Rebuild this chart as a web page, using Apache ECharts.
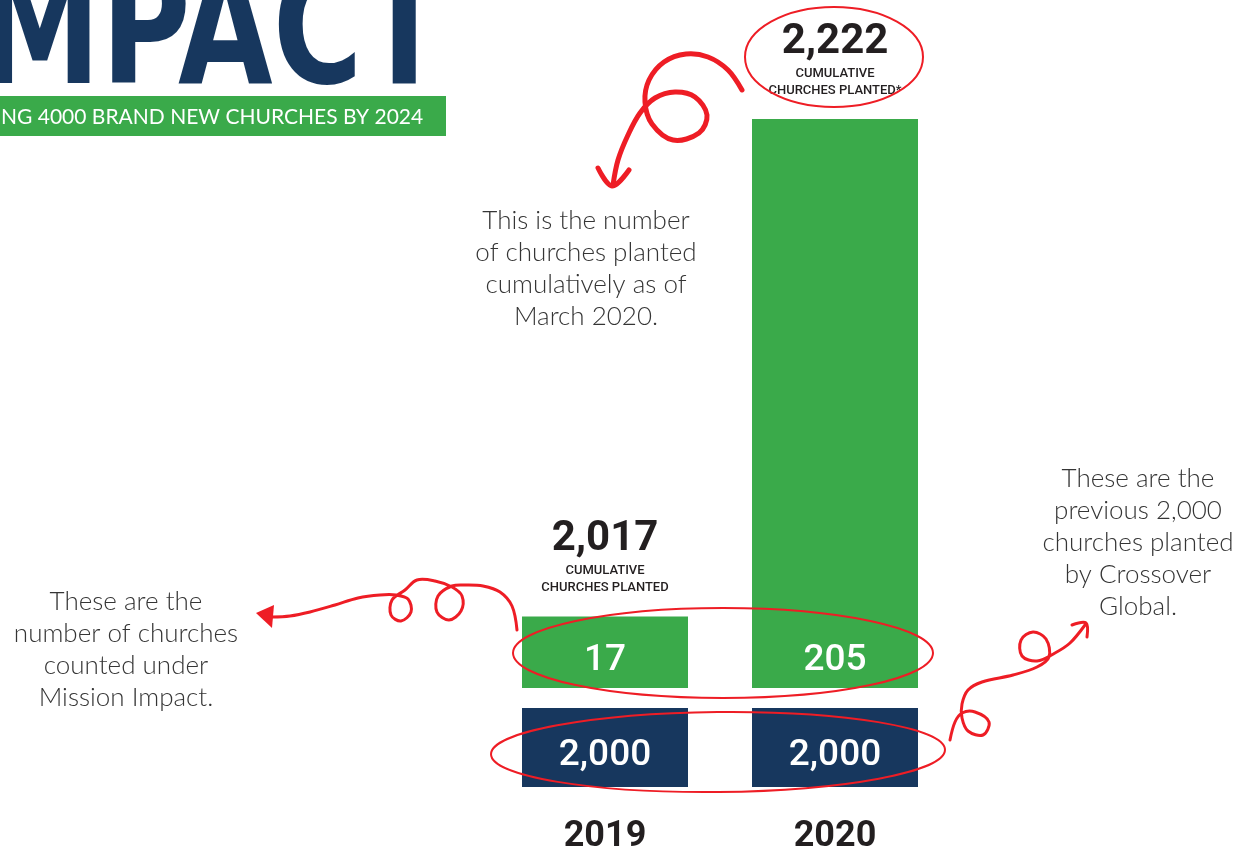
<!DOCTYPE html>
<html>
<head>
<meta charset="utf-8">
<script src="https://cdn.jsdelivr.net/npm/echarts@6/dist/echarts.min.js"></script>
<style>
    html, body {margin: 0; padding: 0; background: #fff;}
    #impact_chart {width: 1245px; height: 855px;}
</style>
</head>
<body>
<div id="impact_chart"></div>
<script>
var years = ['2019', '2020'];
var previousChurches = [2000, 2000];
var missionImpact = [17, 205];
var footnotes = ['', '*'];

var GREEN = '#3aaa4a';
var NAVY = '#17375e';
var RED = '#ee1d25';
var NARROW = "Roboto, 'DejaVu Sans Condensed', sans-serif";
var SOFT = "Lato, 'Noto Sans', sans-serif";

function fmt(v) {
    return v.toLocaleString('en-US');
}

function Impact_chart() {
    // running total: the old 2,000 plus every church counted so far
    var cumulative = [];
    var sum = 0;
    for (var i = 0; i < years.length; i++) {
        sum += missionImpact[i];
        cumulative.push(previousChurches[i] + sum);
    }

    var mychart = echarts.init(document.getElementById('impact_chart'));

    var redLine = function (points, width) {
        return {
            type: 'polyline',
            shape: {points: points, smooth: 0.35},
            style: {stroke: RED, fill: null, lineWidth: width, lineCap: 'round', lineJoin: 'round'},
            z: 100
        };
    };
    var ellipse = function (cx, cy, rx, ry, rot) {
        return {
            type: 'ellipse',
            x: cx, y: cy, rotation: rot || 0,
            shape: {cx: 0, cy: 0, rx: rx, ry: ry},
            style: {stroke: RED, fill: null, lineWidth: 2},
            z: 100
        };
    };
    var note = function (x, y, text) {
        return {
            type: 'text', x: x, y: y,
            style: {
                text: text, fill: '#353535', font: '300 26px ' + SOFT,
                textAlign: 'center', textVerticalAlign: 'top', lineHeight: 32
            }
        };
    };

    var option = {
        animation: false,
        grid: [
            {left: 490, right: 295, top: 119, bottom: 167},
            {left: 490, right: 295, top: 708, bottom: 62}
        ],
        xAxis: [
            {type: 'category', data: years, gridIndex: 0, show: false},
            {
                type: 'category', data: years, gridIndex: 1,
                axisLine: {show: false}, axisTick: {show: false},
                axisLabel: {
                    margin: 32, fontSize: 36, fontWeight: 'bold',
                    fontFamily: NARROW, color: '#231f20'
                }
            }
        ],
        yAxis: [
            {type: 'value', gridIndex: 0, min: -10, max: 205, startValue: -10, show: false},
            {type: 'value', gridIndex: 1, min: 0, max: 2000, show: false}
        ],
        series: [
            {
                name: 'Mission Impact',
                type: 'bar',
                xAxisIndex: 0, yAxisIndex: 0,
                barWidth: 166,
                data: missionImpact,
                itemStyle: {color: GREEN},
                label: {
                    show: true, position: 'insideBottom', distance: 9,
                    color: '#fff', fontSize: 37, fontWeight: 500, fontFamily: NARROW,
                    formatter: function (p) { return fmt(p.value); }
                }
            },
            {
                name: 'Cumulative',
                type: 'scatter',
                xAxisIndex: 0, yAxisIndex: 0,
                symbolSize: 0,
                itemStyle: {opacity: 1},
                data: missionImpact,
                label: {
                    show: true, position: 'top', distance: 20,
                    formatter: function (p) {
                        return '{big|' + fmt(cumulative[p.dataIndex]) + '}\n{small|CUMULATIVE}\n{small|CHURCHES PLANTED' + footnotes[p.dataIndex] + '}';
                    },
                    rich: {
                        big: {fontSize: 42, fontWeight: 'bold', fontFamily: NARROW, color: '#231f20', lineHeight: 46, align: 'center'},
                        small: {fontSize: 13, fontWeight: 500, fontFamily: NARROW, color: '#231f20', lineHeight: 17, align: 'center'}
                    }
                }
            },
            {
                name: 'Crossover Global',
                type: 'bar',
                xAxisIndex: 1, yAxisIndex: 1,
                barWidth: 166,
                data: previousChurches,
                itemStyle: {color: NAVY},
                label: {
                    show: true, position: 'inside', offset: [0, 8],
                    color: '#fff', fontSize: 37, fontWeight: 500, fontFamily: NARROW,
                    formatter: function (p) { return fmt(p.value); }
                }
            }
        ],
        graphic: [
            {
                type: 'text', x: 446, y: 121, scaleX: 0.85,
                style: {
                    text: 'IMPACT', fill: NAVY,
                    font: "bold 160px 'DejaVu Sans Condensed', sans-serif",
                    textAlign: 'right', textVerticalAlign: 'bottom'
                }
            },
            {type: 'rect', shape: {x: 0, y: 96, width: 446, height: 40}, style: {fill: GREEN}},
            {
                type: 'text', x: 1, y: 117,
                style: {
                    text: 'NG 4000 BRAND NEW CHURCHES BY 2024', fill: '#fff',
                    font: '21px ' + SOFT, textVerticalAlign: 'middle'
                }
            },
            note(586, 205, 'This is the number\nof churches planted\ncumulatively as of\nMarch 2020.'),
            note(126, 586, 'These are the\nnumber of churches\ncounted under\nMission Impact.'),
            note(1138, 463, 'These are the\nprevious 2,000\nchurches planted\nby Crossover\nGlobal.'),

            ellipse(834, 57, 89, 50),
            ellipse(723, 653, 210, 45),
            ellipse(718, 752, 227, 40, 0.01),

            // top arrow: cumulative 2020 -> note
            redLine([[742, 90], [728, 70], [708, 57], [686, 54], [664, 62], [649, 80], [645, 102],
                [652, 124], [673, 140], [699, 133], [707, 115], [695, 97], [675, 92], [655, 98],
                [640, 113], [628, 135], [618, 160], [613, 185]], 5),
            redLine([[598, 168], [612, 186], [629, 170]], 5),

            // left arrow: 2019 green bar -> note
            redLine([[517, 630], [512, 606], [500, 592], [483, 586], [466, 585], [452, 586],
                [438, 596], [437, 612], [449, 620], [461, 611], [462, 596], [452, 587],
                [435, 581], [417, 580], [405, 590], [392, 600], [391, 615], [401, 621],
                [411, 612], [408, 599], [396, 595], [380, 595], [358, 598], [335, 605],
                [310, 612], [290, 616], [272, 617]], 3),
            {
                type: 'polygon',
                shape: {points: [[256, 613], [274, 605], [272, 628]]},
                style: {fill: RED},
                z: 100
            },

            // right arrow: navy ellipse -> note
            redLine([[950, 740], [955, 722], [962, 713], [975, 712], [989, 722], [983, 735],
                [968, 731], [962, 718], [962, 704], [968, 690], [982, 682], [1013, 675],
                [1037, 667], [1049, 657], [1046, 639], [1033, 632], [1021, 640], [1022, 656],
                [1037, 661], [1055, 653], [1070, 643], [1085, 625]], 3),
            redLine([[1072, 625], [1086, 623], [1087, 637]], 3)
        ]
    };

    mychart.setOption(option);
}

Impact_chart();
</script>
</body>
</html>
